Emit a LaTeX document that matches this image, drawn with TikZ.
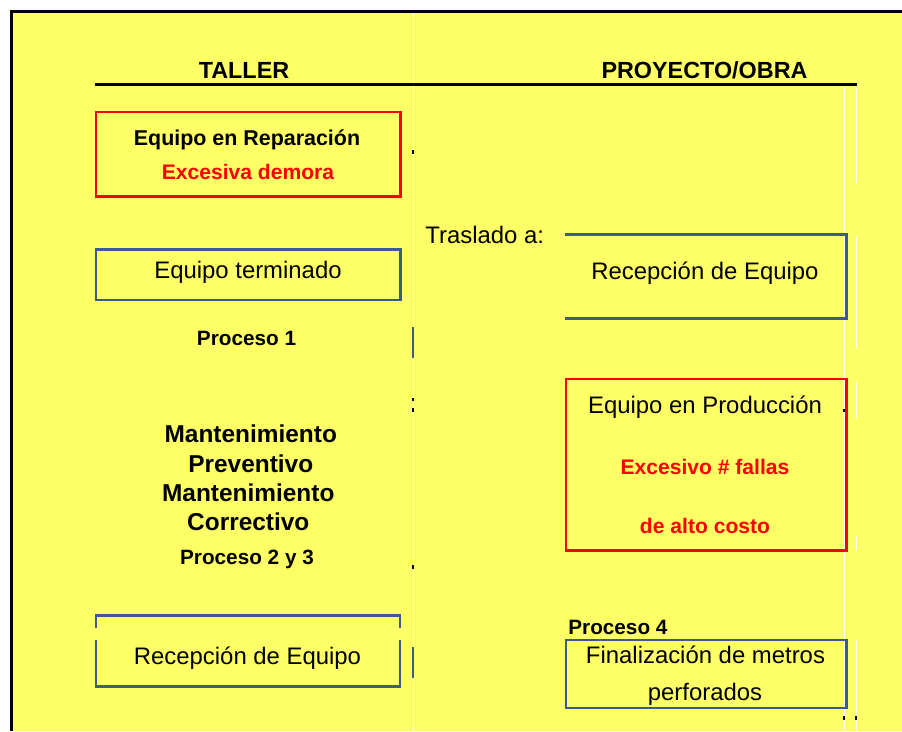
\documentclass[tikz,border=0pt]{standalone}
\usepackage{fontspec}
\setmainfont{Liberation Sans}
\definecolor{fondo}{RGB}{255,255,102}
\definecolor{azulcaja}{RGB}{61,90,140}
\definecolor{rojocaja}{RGB}{255,0,0}

\begin{document}
\begin{tikzpicture}[x=0.02cm, y=-0.02cm,
    cajaroja/.style={draw=rojocaja, line width=1.5pt},
    cajaazul/.style={draw=azulcaja, line width=1.4pt},
    titulo/.style={font=\fontsize{13.3}{16}\selectfont\bfseries, anchor=base},
    texto/.style={font=\fontsize{13.6}{16}\selectfont, anchor=base},
    alerta/.style={font=\fontsize{12}{14}\selectfont\bfseries, text=rojocaja, anchor=base},
    proceso/.style={font=\fontsize{11.8}{14}\selectfont\bfseries, anchor=base},
    mant/.style={font=\fontsize{13.9}{16}\selectfont\bfseries, anchor=base},
    rejilla/.style={white, line width=0.5pt}]
    \useasboundingbox (0,0) rectangle (902,731);

    % Fondo y marco
    \fill[fondo] (11.8,11.8) rectangle (902,731);
    \draw[line width=1.9pt] (11.8,731) -- (11.8,11.8) -- (902,11.8);

    % Lineas de rejilla (restos de la hoja)
    \draw[rejilla] (413,13) -- (413,731);
    \draw[rejilla] (844,87) -- (844,731);
    \draw[rejilla] (856,87) -- (856,183) (856,236) -- (856,348) (856,382) -- (856,418)
                   (856,536) -- (856,550) (856,640) -- (856,731);
    % Marcas sueltas
    \draw[azulcaja, line width=0.6pt] (413,327) -- (413,358) (413,647) -- (413,678);
    \draw[line width=0.6pt] (413,150) -- (413,154) (413,398) -- (413,401) (413,408) -- (413,412)
                            (413,565) -- (413,569) (844,409) -- (844,412)
                            (844,716) -- (844,720) (856,716) -- (856,720);

    % Titulos
    \node[titulo] (taller) at (244,78) {TALLER};
    \node[titulo] (obra) at (704.5,78) {PROYECTO/OBRA};
    \draw[line width=1.6pt] (95,84.5) -- (856.5,84.5);

    % TALLER
    % Equipo en reparacion
    \draw[cajaroja] (96,112) rectangle (400.5,196.5);
    \node[font=\fontsize{12.2}{14}\selectfont\bfseries, anchor=base] (reparacion) at (247,145) {Equipo en Reparación};
    \node[alerta] (demora) at (248,179) {Excesiva demora};

    % Equipo terminado
    \draw[cajaazul] (96,249.5) rectangle (400.5,300);
    \node[texto] (terminado) at (248,278) {Equipo terminado};
    \node[proceso] (proc1) at (246.5,345) {Proceso 1};

    % Mantenimiento
    \node[mant] (mant1) at (250.8,442.7) {Mantenimiento};
    \node[mant] (mant2) at (250.8,472) {Preventivo};
    \node[mant] (mant3) at (248.3,501) {Mantenimiento};
    \node[mant] (mant4) at (248.3,530) {Correctivo};
    \node[proceso] (proc23) at (247,564) {Proceso 2 y 3};

    % Recepcion de equipo (taller)
    \draw[cajaazul] (96,628) -- (96,615.5) -- (400,615.5) -- (400,628)
                    (96,640) -- (96,686.5) -- (400,686.5) -- (400,640);
    \node[texto] (recepcion1) at (247.5,664) {Recepción de Equipo};

    % PROYECTO/OBRA
    \node[texto, anchor=base west, inner xsep=0pt] (traslado) at (425,243) {Traslado a:};
    \draw[cajaazul] (565,234.3) -- (846.5,234.3) -- (846.5,318.3) -- (565,318.3);
    \node[texto] (recepcion2) at (705,279) {Recepción de Equipo};

    % Equipo en produccion
    \draw[cajaroja] (566,379) rectangle (846.5,550.5);
    \node[texto] (produccion) at (705,413) {Equipo en Producción};
    \node[alerta] (fallas) at (705,474) {Excesivo \# fallas};
    \node[alerta] (costo) at (705,533) {de alto costo};

    % Finalizacion
    \node[proceso, anchor=base west, inner xsep=0pt] (proc4) at (568,634) {Proceso 4};
    \draw[cajaazul] (566,640) rectangle (846.5,708);
    \node[texto] (finalizacion) at (705.5,663) {Finalización de metros};
    \node[texto] (perforados) at (705,700.5) {perforados};
\end{tikzpicture}
\end{document}
